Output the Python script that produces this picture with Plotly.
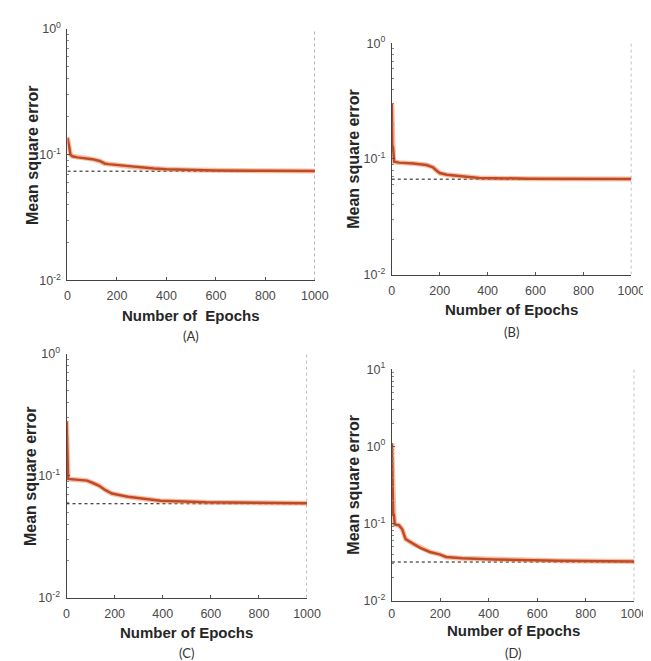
import plotly.graph_objects as go

# ---------------- data ----------------
epochs_A = [0, 3, 8, 12, 20, 40, 70, 100, 130, 150, 165, 200, 260, 300, 350, 400, 500, 600, 800, 1000]
mse_A = [0.136, 0.128, 0.112, 0.100, 0.097, 0.095, 0.094, 0.092, 0.089, 0.085, 0.084, 0.0826, 0.080,
         0.0789, 0.0775, 0.0765, 0.0755, 0.0748, 0.0744, 0.0740]
best_A = 0.0738

epochs_B = [0, 1, 2, 5, 7, 10, 30, 90, 145, 172, 185, 200, 230, 300, 365, 570, 1000]
mse_B = [0.30, 0.18, 0.131, 0.127, 0.101, 0.0946, 0.093, 0.0916, 0.0887, 0.0848, 0.080, 0.0755,
         0.073, 0.0708, 0.0685, 0.0676, 0.0671]
best_B = 0.0669

epochs_C = [0, 2, 5, 7, 30, 86, 110, 134, 162, 189, 255, 309, 390, 578, 1000]
mse_C = [0.28, 0.13, 0.124, 0.094, 0.093, 0.091, 0.087, 0.083, 0.076, 0.0713, 0.067, 0.065,
         0.0623, 0.0604, 0.0593]
best_C = 0.0588

epochs_D = [0, 3, 6, 9, 12, 29, 43, 57, 90, 117, 157, 197, 224, 290, 424, 690, 1000]
mse_D = [1.10, 0.35, 0.13, 0.13, 0.097, 0.095, 0.084, 0.0627, 0.054, 0.0483, 0.0426, 0.0397,
         0.0367, 0.0353, 0.034, 0.0327, 0.032]
best_D = 0.0316

best_epoch = 1000
x_ticks = [0, 200, 400, 600, 800, 1000]
y_ticks_3 = [0.01, 0.1, 1]
y_ticks_4 = [0.01, 0.1, 1, 10]
y_text_3 = ["10<sup>-2</sup>", "10<sup>-1</sup>", "10<sup>0</sup>"]
y_text_4 = ["10<sup>-2</sup>", "10<sup>-1</sup>", "10<sup>0</sup>", "10<sup>1</sup>"]
x_title = ["Number of\u00a0 Epochs", "Number of Epochs", "Number of Epochs", "Number of Epochs"]
y_title = "Mean square error"
captions = ["(A)", "(B)", "(C)", "(D)"]

# ---------------- layout geometry (pixels) ----------------
W, H = 651, 661
boxes = [  # x0, x1, ytop, ybottom
    (58, 312, 12, 270),
    (391, 637, 27, 264),
    (57, 304, 345, 595),
    (391, 640, 361, 598),
]
yranges = [(-2, 0), (-2, 0), (-2, 0), (-2, 1)]
xtitle_y = [306, 300, 631, 629]
caption_y = [327, 323, 652, 652]
ytitle_x = [22, 352, 20, 352]
xlabel_standoff = [4, 4, 4, 1]

panels = [
    (epochs_A, mse_A, best_A, y_ticks_3, y_text_3),
    (epochs_B, mse_B, best_B, y_ticks_3, y_text_3),
    (epochs_C, mse_C, best_C, y_ticks_3, y_text_3),
    (epochs_D, mse_D, best_D, y_ticks_4, y_text_4),
]

FONT = "Liberation Sans, Arial, sans-serif"
fig = go.Figure()
annotations = []

for i, (ep, mse, best, yt, ytx) in enumerate(panels):
    n = "" if i == 0 else str(i + 1)
    xa, ya = "x" + n, "y" + n
    x0, x1, yt0, yb0 = boxes[i]
    lo, hi = yranges[i]
    minor_vals = [m * 10.0 ** e for e in range(lo, hi) for m in range(2, 10)]
    # horizontal best line
    fig.add_trace(go.Scatter(x=[0, best_epoch], y=[best, best], mode="lines",
                             line=dict(color="#111111", width=1, dash="dot"),
                             xaxis=xa, yaxis=ya, showlegend=False, hoverinfo="skip"))
    # vertical best epoch line
    fig.add_trace(go.Scatter(x=[best_epoch, best_epoch], y=[10 ** lo, 10 ** hi], mode="lines",
                             line=dict(color="#777777", width=1, dash="dot"),
                             xaxis=xa, yaxis=ya, showlegend=False, hoverinfo="skip"))
    # curve halo + core
    fig.add_trace(go.Scatter(x=ep, y=mse, mode="lines",
                             line=dict(color="rgba(240,140,90,0.55)", width=5),
                             xaxis=xa, yaxis=ya, showlegend=False, hoverinfo="skip"))
    fig.add_trace(go.Scatter(x=ep, y=mse, mode="lines",
                             line=dict(color="#bf4a28", width=2.5),
                             xaxis=xa, yaxis=ya, showlegend=False))

    axis_common = dict(showline=True, linecolor="#444444", linewidth=1, showgrid=False,
                       zeroline=False, ticks="inside", ticklen=3, tickcolor="#555555",
                       tickfont=dict(family=FONT, size=12.5, color="#4a4a4a"), mirror=False)
    fig.layout["xaxis" + n] = dict(domain=[x0 / W, x1 / W], anchor=ya, range=[0, 1000],
                                   tickmode="array", tickvals=x_ticks,
                                   ticktext=[str(v) for v in x_ticks],
                                   ticklabelstandoff=xlabel_standoff[i], **axis_common)
    fig.layout["yaxis" + n] = dict(domain=[1 - yb0 / H, 1 - yt0 / H], anchor=xa, type="log",
                                   range=[lo, hi], tickmode="array", tickvals=yt, ticktext=ytx,
                                   minor=dict(ticks="inside", ticklen=2, tickcolor="#888888",
                                              tickmode="array", tickvals=minor_vals, showgrid=False),
                                   ticklabelstandoff=3, **axis_common)
    cx = (x0 + x1) / 2
    annotations.append(dict(x=cx / W, y=1 - xtitle_y[i] / H, xref="paper", yref="paper",
                            text=x_title[i], showarrow=False, xanchor="center", yanchor="middle",
                            font=dict(family=FONT, size=15, color="#262626", weight="bold")))
    annotations.append(dict(x=ytitle_x[i] / W, y=1 - (yt0 + yb0) / 2 / H, xref="paper", yref="paper",
                            text=y_title, showarrow=False, textangle=-90, xanchor="center",
                            yanchor="middle",
                            font=dict(family=FONT, size=16, color="#262626", weight="bold")))
    annotations.append(dict(x=cx / W, y=1 - caption_y[i] / H, xref="paper", yref="paper",
                            text=captions[i], showarrow=False, xanchor="center", yanchor="middle",
                            font=dict(family="Lato, Open Sans, sans-serif", size=13, color="#333333")))

fig.update_layout(width=W, height=H, margin=dict(l=0, r=0, t=0, b=0),
                  paper_bgcolor="white", plot_bgcolor="white", showlegend=False,
                  annotations=annotations)
fig.write_html("out.html")
